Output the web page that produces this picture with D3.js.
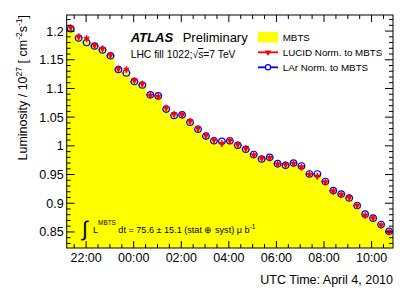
<!DOCTYPE html>
<html>
<head>
<meta charset="utf-8">
<script src="https://cdn.jsdelivr.net/npm/d3@7"></script>
<style>
  html, body { margin: 0; padding: 0; background: #fff; }
  svg { display: block; font-family: "Liberation Sans", Arial, Helvetica, sans-serif; }
</style>
</head>
<body>
<svg id="chart" width="415" height="296"></svg>
<script>
// Luminosity per 20-min bin, LHC fill 1022 (units of 1e27 cm^-2 s^-1)
const mbts = [
  1.205, 1.189, 1.184, 1.174, 1.168, 1.158, 1.133, 1.129, 1.113, 1.107,
  1.089, 1.087, 1.065, 1.054, 1.054, 1.042, 1.029, 1.018, 1.009, 1.006,
  1.009, 1.002, 0.994, 0.985, 0.978, 0.979, 0.969, 0.966, 0.969, 0.964,
  0.951, 0.949, 0.938, 0.921, 0.916, 0.910, 0.896, 0.880, 0.874, 0.862,
  0.851
];
const lucid = [
  1.206, 1.190, 1.187, 1.175, 1.169, 1.158, 1.134, 1.133, 1.114, 1.108,
  1.088, 1.086, 1.066, 1.055, 1.054, 1.043, 1.030, 1.018, 1.010, 1.004,
  1.009, 1.002, 0.995, 0.984, 0.978, 0.979, 0.968, 0.967, 0.969, 0.963,
  0.950, 0.947, 0.937, 0.921, 0.915, 0.910, 0.896, 0.879, 0.874, 0.862,
  0.850
];
const lar = [
  1.204, 1.188, 1.180, 1.174, 1.167, 1.157, 1.133, 1.127, 1.112, 1.106,
  1.089, 1.087, 1.064, 1.053, 1.054, 1.041, 1.029, 1.017, 1.009, 1.008,
  1.009, 1.001, 0.994, 0.985, 0.977, 0.980, 0.969, 0.966, 0.970, 0.965,
  0.951, 0.951, 0.938, 0.922, 0.916, 0.909, 0.896, 0.881, 0.874, 0.863,
  0.851
];
const lucidErr = 0.006;

const yTicks = [0.85, 0.9, 0.95, 1, 1.05, 1.1, 1.15, 1.2];
const xTickHours = ['22:00', '00:00', '02:00', '04:00', '06:00', '08:00', '10:00'];

const tStart = new Date(Date.UTC(2010, 3, 3, 21, 11));
const tEnd = new Date(Date.UTC(2010, 3, 4, 10, 54));

const svg = d3.select('#chart');
const padL = 66.7, padR = 393, padT = 15, padB = 248;

const x = d3.scaleUtc().domain([tStart, tEnd]).range([padL, padR]);
const y = d3.scaleLinear().domain([0.822, 1.228]).range([padB, padT]);

// bin edges span the whole axis range
const nBins = mbts.length;
const binW = (tEnd - tStart) / nBins;
const edge = i => new Date(+tStart + i * binW);
const centre = i => new Date(+tStart + (i + 0.5) * binW);

// MBTS histogram (yellow area, step shaped)
const stepPts = [];
mbts.forEach((v, i) => {
  stepPts.push([edge(i), v]);
  stepPts.push([edge(i + 1), v]);
});
const area = d3.area()
  .x(d => x(d[0]))
  .y0(padB)
  .y1(d => y(d[1]));
svg.append('path')
  .datum(stepPts)
  .attr('d', area)
  .attr('fill', '#ffff00');

// LAr points: open blue circles with horizontal bars
const r = 3.2;
const larG = svg.append('g');
lar.forEach((v, i) => {
  const cx = x(centre(i)), cy = y(v);
  larG.append('line')
    .attr('x1', x(edge(i))).attr('x2', cx - r)
    .attr('y1', cy).attr('y2', cy)
    .attr('stroke', '#0000ff').attr('stroke-width', 1.3);
  larG.append('line')
    .attr('x1', cx + r).attr('x2', x(edge(i + 1)))
    .attr('y1', cy).attr('y2', cy)
    .attr('stroke', '#0000ff').attr('stroke-width', 1.3);
  larG.append('circle')
    .attr('cx', cx).attr('cy', cy).attr('r', r)
    .attr('fill', 'none')
    .attr('stroke', '#0000ff').attr('stroke-width', 1.2);
});

// LUCID points: red down triangles with vertical error bars
const tri = d3.symbol().type(d3.symbolTriangle).size(18);
const lucG = svg.append('g');
lucid.forEach((v, i) => {
  const cx = x(centre(i));
  lucG.append('line')
    .attr('x1', cx).attr('x2', cx)
    .attr('y1', y(v + lucidErr)).attr('y2', y(v - lucidErr))
    .attr('stroke', '#ff0000').attr('stroke-width', 1.3);
  lucG.append('path')
    .attr('d', tri)
    .attr('transform', `translate(${cx},${y(v)}) rotate(180)`)
    .attr('fill', '#ff0000');
});

// frame
svg.append('rect')
  .attr('x', padL).attr('y', padT)
  .attr('width', padR - padL).attr('height', padB - padT)
  .attr('fill', 'none').attr('stroke', '#000').attr('stroke-width', 1);

// ticks on all four sides, ROOT style (inside)
const tickG = svg.append('g').attr('stroke', '#000').attr('stroke-width', 1);
const parseHM = s => {
  const [h, m] = s.split(':').map(Number);
  const day = h >= 12 ? 3 : 4;
  return new Date(Date.UTC(2010, 3, day, h, m));
};
const xMajor = xTickHours.map(parseHM);
const xMinor = d3.utcMinute.every(30).range(tStart, tEnd);
xMinor.forEach(t => {
  const major = xMajor.some(m => +m === +t);
  const len = major ? 7 : 4;
  const px = x(t);
  tickG.append('line').attr('x1', px).attr('x2', px).attr('y1', padB).attr('y2', padB - len);
  tickG.append('line').attr('x1', px).attr('x2', px).attr('y1', padT).attr('y2', padT + len);
});
const yMinor = d3.range(83, 123).map(v => v / 100);
yMinor.forEach(v => {
  const major = yTicks.some(t => Math.abs(t - v) < 1e-6);
  const len = major ? 8 : 4;
  const py = y(v);
  tickG.append('line').attr('x1', padL).attr('x2', padL + len).attr('y1', py).attr('y2', py);
  tickG.append('line').attr('x1', padR).attr('x2', padR - len).attr('y1', py).attr('y2', py);
});

// tick labels
svg.selectAll('.ylab')
  .data(yTicks)
  .enter()
  .append('text')
  .attr('class', 'ylab')
  .attr('x', padL - 3)
  .attr('y', d => y(d) + 4.5)
  .attr('text-anchor', 'end')
  .attr('font-size', 12.5)
  .text(d => String(+d.toFixed(2)));

svg.selectAll('.xlab')
  .data(xTickHours)
  .enter()
  .append('text')
  .attr('class', 'xlab')
  .attr('x', d => x(parseHM(d)))
  .attr('y', 262)
  .attr('text-anchor', 'middle')
  .attr('font-size', 12.5)
  .text(d => d);

// axis titles
svg.append('text')
  .attr('x', padR)
  .attr('y', 284)
  .attr('text-anchor', 'end')
  .attr('font-size', 12.5)
  .text('UTC Time: April 4, 2010');

const yTitle = svg.append('text')
  .attr('transform', `translate(27,${padT}) rotate(-90)`)
  .attr('text-anchor', 'end')
  .attr('font-size', 12.5);
yTitle.append('tspan').text('Luminosity / 10');
yTitle.append('tspan').attr('font-size', 8.5).attr('dy', -5).text('27');
yTitle.append('tspan').attr('dy', 5).text(' [ cm');
yTitle.append('tspan').attr('font-size', 8.5).attr('dy', -5).text('-2');
yTitle.append('tspan').attr('dy', 5).text('s');
yTitle.append('tspan').attr('font-size', 8.5).attr('dy', -5).text('-1');
yTitle.append('tspan').attr('dy', 5).text(']');

// ATLAS label
const atlas = svg.append('text').attr('x', 130.7).attr('y', 42).attr('font-size', 13);
atlas.append('tspan').attr('font-weight', 'bold').attr('font-style', 'italic').text('ATLAS');
svg.append('text').attr('x', 182.7).attr('y', 42).attr('font-size', 13).text('Preliminary');

const fill = svg.append('text').attr('x', 130.7).attr('y', 58).attr('font-size', 10.3);
fill.append('tspan').text('LHC fill 1022;\u221A');
fill.append('tspan').attr('text-decoration', 'overline').text('s');
fill.append('tspan').text('=7 TeV');

// legend
const legX = 258, legTextX = 282.7;
svg.append('rect')
  .attr('x', legX).attr('y', 32)
  .attr('width', 20).attr('height', 10.5)
  .attr('fill', '#ffff00');
svg.append('line')
  .attr('x1', legX).attr('x2', legX + 20).attr('y1', 52.3).attr('y2', 52.3)
  .attr('stroke', '#ff0000').attr('stroke-width', 1.8);
svg.append('path')
  .attr('d', tri)
  .attr('transform', `translate(${legX + 10},52.3) rotate(180)`)
  .attr('fill', '#ff0000');
svg.append('line')
  .attr('x1', legX).attr('x2', legX + 20).attr('y1', 67.3).attr('y2', 67.3)
  .attr('stroke', '#0000ff').attr('stroke-width', 1.8);
svg.append('circle')
  .attr('cx', legX + 10).attr('cy', 67.3).attr('r', 2.6)
  .attr('fill', '#fff').attr('stroke', '#0000ff').attr('stroke-width', 1.2);

const legLabels = ['MBTS', 'LUCID Norm. to MBTS', 'LAr Norm. to MBTS'];
svg.selectAll('.leg')
  .data(legLabels)
  .enter()
  .append('text')
  .attr('class', 'leg')
  .attr('x', legTextX)
  .attr('y', (d, i) => 40.5 + i * 15)
  .attr('font-size', 9.8)
  .text(d => d);

// integrated luminosity note
svg.append('text')
  .attr('x', 82).attr('y', 236)
  .attr('font-size', 21)
  .attr('font-weight', 300)
  .text('\u222B');
const integ = svg.append('text').attr('x', 93).attr('y', 233).attr('font-size', 9.1);
integ.append('tspan').text('L');
integ.append('tspan').attr('font-size', 6.4).attr('dy', -8).text('MBTS');
integ.append('tspan').attr('dy', 8).text(' dt = 75.6 \u00B1 15.1 (stat \u2295 syst) \u03BC b');
integ.append('tspan').attr('font-size', 6.4).attr('dy', -4).text('-1');
</script>
</body>
</html>
